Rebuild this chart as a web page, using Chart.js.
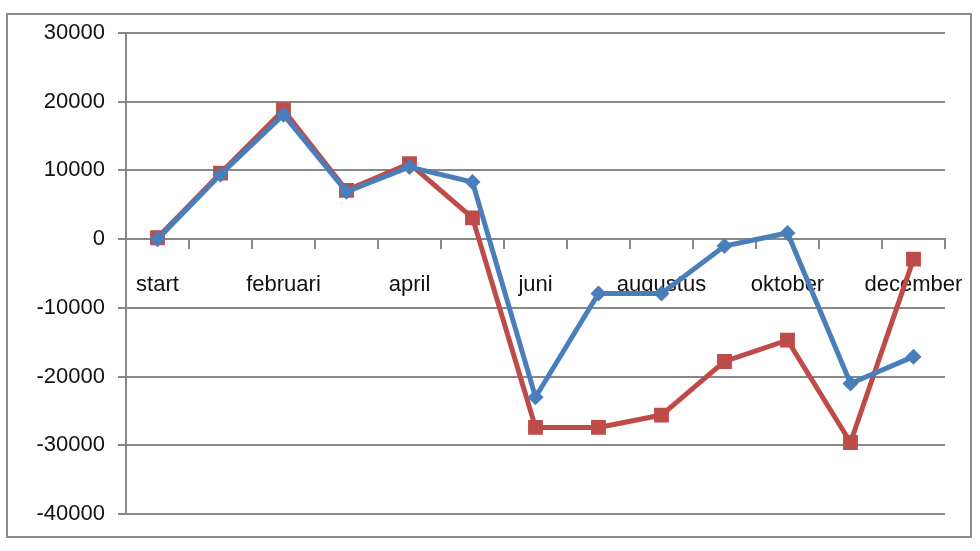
<!DOCTYPE html>
<html>
<head>
<meta charset="utf-8">
<script src="https://cdn.jsdelivr.net/npm/chart.js@4"></script>
<style>
  html, body { margin: 0; padding: 0; background: #fff; }
  #wrap { position: relative; width: 980px; height: 551px; }
  #frame { position: absolute; left: 6px; top: 13px; width: 962px; height: 521px; border: 2px solid #8c8c8c; box-sizing: content-box; pointer-events: none; }
  canvas { position: absolute; left: 0; top: 0; }
</style>
</head>
<body>
<div id="wrap">
  <canvas id="c" width="980" height="551"></canvas>
  <div id="frame"></div>
</div>
<script>
const categories = ['start', 'januari', 'februari', 'maart', 'april', 'mei', 'juni', 'juli', 'augustus', 'september', 'oktober', 'november', 'december'];
const redSeries = [200, 9600, 18800, 7100, 11000, 3100, -27400, -27400, -25600, -17800, -14700, -29600, -2900];
const blueSeries = [0, 9400, 18100, 6900, 10500, 8300, -23000, -7900, -7900, -1000, 900, -21000, -17100];
const yTicks = [30000, 20000, 10000, 0, -10000, -20000, -30000, -40000];

const gridColor = '#888888';
const fontSpec = { family: '"Liberation Sans", Arial, sans-serif', size: 22 };

new Chart(document.getElementById('c'), {
  type: 'line',
  data: {
    labels: categories,
    datasets: [
      {
        label: 'blauw',
        data: blueSeries,
        borderColor: '#4A7EBB',
        backgroundColor: '#4A7EBB',
        borderWidth: 5,
        tension: 0,
        pointStyle: 'rectRot',
        pointRadius: 8,
        pointBorderWidth: 0,
        pointBackgroundColor: '#4A7EBB'
      },
      {
        label: 'rood',
        data: redSeries,
        borderColor: '#BE4B48',
        backgroundColor: '#BE4B48',
        borderWidth: 5,
        tension: 0,
        pointStyle: 'rect',
        pointRadius: 10.5,
        pointBorderWidth: 0,
        pointBackgroundColor: '#BE4B48'
      }
    ]
  },
  options: {
    responsive: false,
    animation: false,
    layout: { padding: { left: 0, top: 33, right: 35, bottom: 37 } },
    plugins: { legend: { display: false }, tooltip: { enabled: false } },
    scales: {
      x: {
        type: 'category',
        position: { y: 0 },
        offset: true,
        afterFit: function (scale) { scale.paddingLeft = 0; scale.paddingRight = 0; },
        grid: {
          offset: true,
          drawOnChartArea: false,
          drawTicks: true,
          tickLength: 9,
          color: gridColor,
          lineWidth: 2
        },
        border: { display: true, color: gridColor, width: 2 },
        ticks: {
          autoSkip: false,
          maxRotation: 0,
          minRotation: 0,
          padding: 24,
          color: '#111111',
          font: fontSpec,
          callback: function (value, index) { return index % 2 === 0 ? categories[index] : ''; }
        }
      },
      y: {
        min: -40000,
        max: 30000,
        afterFit: function (scale) { scale.width = 126; },
        afterBuildTicks: function (scale) { scale.ticks = yTicks.map(v => ({ value: v })); },
        grid: {
          color: gridColor,
          lineWidth: 2,
          drawTicks: true,
          tickLength: 8
        },
        border: { display: true, color: gridColor, width: 2 },
        ticks: {
          padding: 13,
          color: '#111111',
          font: fontSpec,
          callback: function (value) { return String(value); }
        }
      }
    }
  }
});
</script>
</body>
</html>
